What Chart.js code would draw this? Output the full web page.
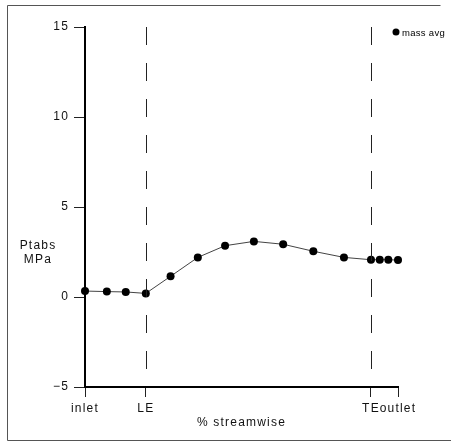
<!DOCTYPE html>
<html>
<head>
<meta charset="utf-8">
<script src="https://cdn.jsdelivr.net/npm/chart.js@4.4.1/dist/chart.umd.min.js"></script>
<style>
  html, body { margin: 0; padding: 0; background: #fff; }
  #wrap { width: 451px; height: 442px; position: relative; }
</style>
</head>
<body>
<div id="wrap"><canvas id="c" width="451" height="442"></canvas></div>
<script>
// Streamwise stations (% streamwise, LE = 0, TE = 100)
const stations = [-27, -17.3, -8.9, 0, 11, 23.1, 35.2, 48, 61, 74.4, 88, 100, 103.9, 107.7, 112];
// Mass-averaged absolute total pressure, MPa
const massAvg = [0.33, 0.30, 0.28, 0.20, 1.15, 2.20, 2.85, 3.09, 2.93, 2.54, 2.20, 2.07, 2.07, 2.07, 2.05];
// Named positions along the passage
const xTickValues = [-27, 0, 100, 112];
const xTickLabels = ['inlet', 'LE', 'TE', 'outlet'];
// Blade edges marked with dashed lines
const edgeStations = [0, 100];
const yTicks = [-5, 0, 5, 10, 15];

const FONT = '"Liberation Sans", Arial, sans-serif';
const SPACING = '1.2px';

const decor = {
  id: 'decor',
  beforeLayout(chart) { chart.ctx.letterSpacing = SPACING; },
  beforeDraw(chart) {
    const ctx = chart.ctx;
    ctx.letterSpacing = SPACING;
    ctx.save();
    ctx.fillStyle = '#fff';
    ctx.fillRect(0, 0, chart.width, chart.height);
    // outer frame
    ctx.strokeStyle = '#555';
    ctx.lineWidth = 1;
    ctx.beginPath();
    ctx.moveTo(440.5, 5.5);
    ctx.lineTo(7.5, 5.5);
    ctx.lineTo(7.5, 440.5);
    ctx.lineTo(451, 440.5);
    ctx.stroke();
    ctx.restore();
  },
  afterDatasetsDraw(chart) {
    const ctx = chart.ctx;
    const x = chart.scales.x, a = chart.chartArea;
    ctx.save();
    // leading / trailing edge markers
    ctx.strokeStyle = '#222';
    ctx.lineWidth = 1;
    ctx.setLineDash([18, 18]);
    edgeStations.forEach(v => {
      const px = Math.round(x.getPixelForValue(v)) + 0.5;
      ctx.beginPath();
      ctx.moveTo(px, a.top);
      ctx.lineTo(px, a.bottom);
      ctx.stroke();
    });
    ctx.setLineDash([]);
    // y axis caption
    ctx.fillStyle = '#111';
    ctx.font = '12px ' + FONT;
    ctx.textAlign = 'center';
    ctx.textBaseline = 'middle';
    ctx.fillText('Ptabs', 38, 246);
    ctx.fillText('MPa', 38, 260);
    // legend
    const ds = chart.data.datasets[0];
    ctx.fillStyle = '#000';
    ctx.beginPath();
    ctx.arc(396, 32, 3.5, 0, Math.PI * 2);
    ctx.fill();
    ctx.letterSpacing = '0.3px';
    ctx.font = '9.5px ' + FONT;
    ctx.textAlign = 'left';
    ctx.fillText(ds.label, 402, 33);
    ctx.restore();
  }
};

new Chart(document.getElementById('c'), {
  type: 'line',
  data: {
    datasets: [{
      label: 'mass avg',
      data: stations.map((s, i) => ({ x: s, y: massAvg[i] })),
      borderColor: '#444',
      borderWidth: 1,
      pointRadius: 4,
      pointBackgroundColor: '#000',
      pointBorderColor: '#000',
      pointBorderWidth: 0,
      tension: 0,
      clip: false
    }]
  },
  options: {
    responsive: false,
    animation: false,
    layout: { padding: { left: 0, top: 27, right: 53, bottom: 12 } },
    plugins: { legend: { display: false }, tooltip: { enabled: false } },
    scales: {
      x: {
        type: 'linear',
        min: -27,
        max: 112,
        afterFit(scale) { scale.height = 43; },
        afterBuildTicks(scale) { scale.ticks = xTickValues.map(v => ({ value: v })); },
        ticks: {
          autoSkip: false,
          maxRotation: 0,
          padding: 4,
          color: '#111',
          font: { family: FONT, size: 12 },
          callback: v => xTickLabels[xTickValues.indexOf(v)]
        },
        grid: { drawOnChartArea: false, drawTicks: true, tickLength: 10, color: '#222' },
        border: { display: true, color: '#000', width: 2 },
        title: {
          display: true,
          text: '% streamwise',
          color: '#111',
          font: { family: FONT, size: 12 },
          padding: { top: 0, bottom: 0 }
        }
      },
      y: {
        min: -5,
        max: 15,
        afterFit(scale) { scale.width = 85; },
        afterBuildTicks(scale) { scale.ticks = yTicks.map(v => ({ value: v })); },
        ticks: {
          padding: 5,
          color: '#111',
          font: { family: FONT, size: 12 },
          callback: v => v < 0 ? '\u2212' + Math.abs(v) : String(v)
        },
        grid: { drawOnChartArea: false, drawTicks: true, tickLength: 11, color: '#222' },
        border: { display: true, color: '#000', width: 2 }
      }
    }
  },
  plugins: [decor]
});
</script>
</body>
</html>
